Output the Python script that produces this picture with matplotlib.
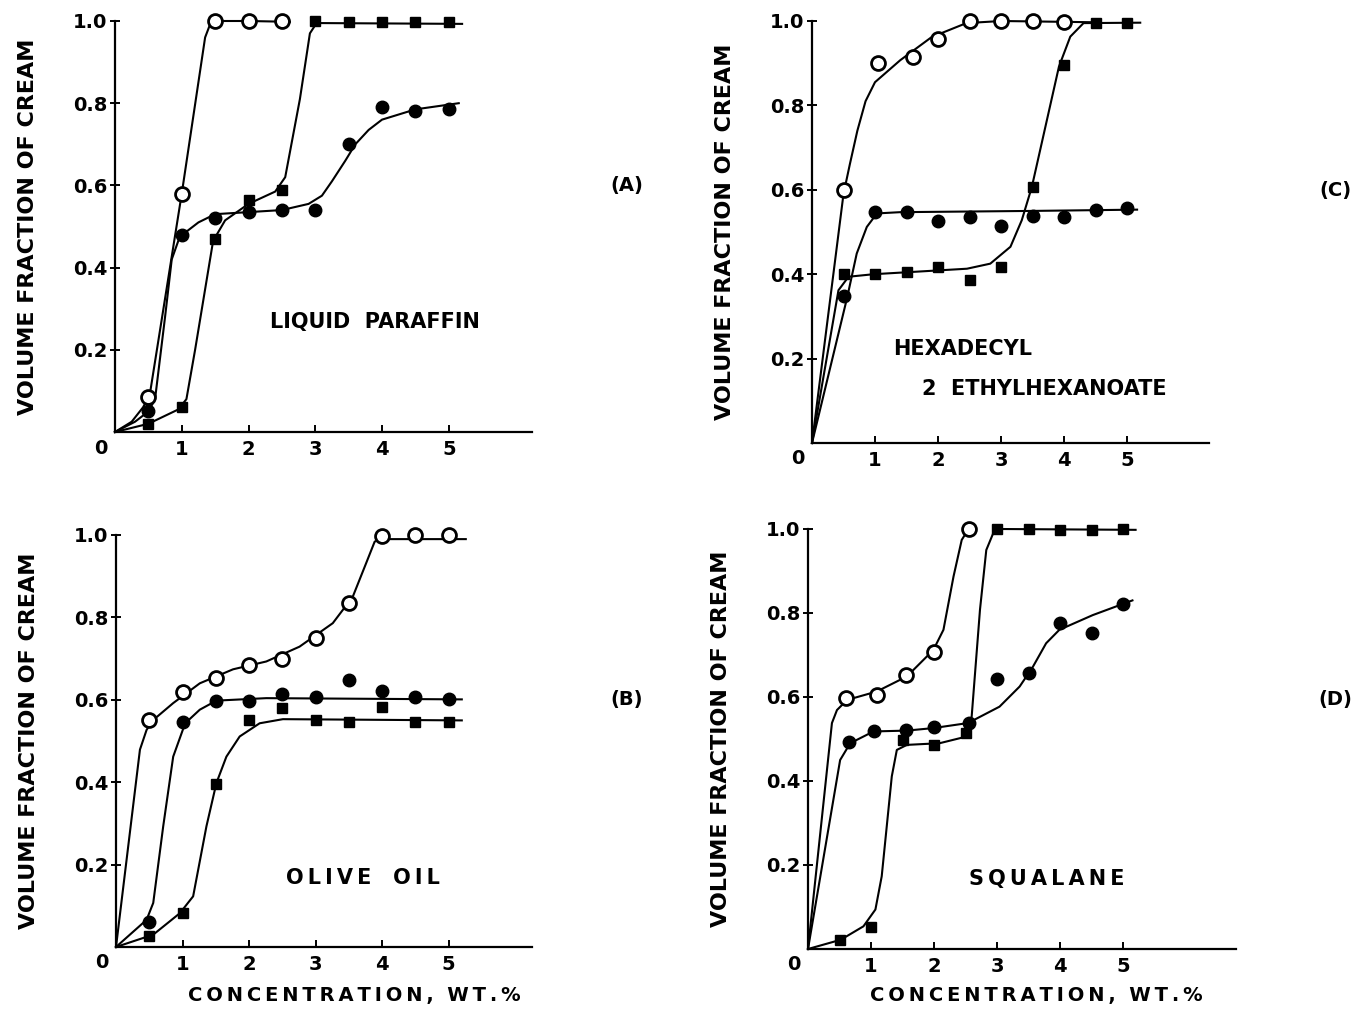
import matplotlib
matplotlib.use("Agg")
from matplotlib import pyplot as plt

# concentration (wt.%) at which samples were measured
conc = [0.5, 1.0, 1.5, 2.0, 2.5, 3.0, 3.5, 4.0, 4.5, 5.0]

# (A) liquid paraffin
a_open_x = [0.5, 1.0, 1.5, 2.0, 2.5]
a_open_y = [0.085, 0.58, 1.0, 1.0, 1.0]
a_fill_y = [0.05, 0.48, 0.52, 0.535, 0.54, 0.54, 0.70, 0.79, 0.78, 0.785]
a_sq_y = [0.02, 0.06, 0.47, 0.565, 0.59, 1.0, 0.998, 0.998, 0.997, 0.997]
a_open_cx = [0, 0.25, 0.42, 0.52, 1.0, 1.35, 1.42, 1.5, 2.0, 2.62]
a_open_cy = [0, 0.025, 0.06, 0.09, 0.58, 0.96, 0.99, 1.0, 1.0, 0.998]
a_fill_cx = [0, 0.3, 0.5, 0.6, 0.75, 0.85, 0.97, 1.25, 1.5, 2.0, 2.5, 2.9, 3.1,
             3.25, 3.45, 3.6, 3.8, 4.0, 4.5, 5.15]
a_fill_cy = [0, 0.025, 0.05, 0.08, 0.28, 0.42, 0.475, 0.51, 0.53, 0.535, 0.54,
             0.555, 0.575, 0.61, 0.66, 0.70, 0.735, 0.76, 0.785, 0.80]
a_sq_cx = [0, 0.5, 0.95, 1.07, 1.2, 1.47, 1.65, 2.0, 2.4, 2.55, 2.77, 2.92, 3.02, 5.2]
a_sq_cy = [0, 0.02, 0.055, 0.08, 0.2, 0.465, 0.515, 0.555, 0.585, 0.62, 0.81,
           0.97, 0.995, 0.993]

# (B) olive oil
b_open_y = [0.55, 0.618, 0.654, 0.685, 0.699, 0.749, 0.836, 0.998, 1.0, 1.0]
b_fill_y = [0.06, 0.547, 0.598, 0.598, 0.614, 0.606, 0.647, 0.622, 0.608, 0.602]
b_sq_y = [0.027, 0.082, 0.396, 0.55, 0.58, 0.55, 0.545, 0.582, 0.545, 0.547]
b_open_cx = [0, 0.36, 0.46, 0.56, 0.86, 1.26, 1.76, 2.26, 2.76, 3.26, 3.56,
             3.76, 3.89, 3.99, 5.26]
b_open_cy = [0, 0.479, 0.527, 0.551, 0.592, 0.64, 0.674, 0.693, 0.729, 0.786,
             0.85, 0.931, 0.984, 0.99, 0.99]
b_fill_cx = [0, 0.46, 0.56, 0.71, 0.86, 1.04, 1.26, 1.51, 2.26, 5.2]
b_fill_cy = [0, 0.066, 0.107, 0.293, 0.462, 0.543, 0.576, 0.598, 0.604, 0.601]
b_sq_cx = [0, 0.56, 0.96, 1.16, 1.36, 1.51, 1.66, 1.86, 2.16, 2.51, 5.2]
b_sq_cy = [0, 0.03, 0.082, 0.123, 0.293, 0.398, 0.462, 0.511, 0.543, 0.553, 0.55]

# (C) hexadecyl 2 ethylhexanoate
c_open_x = [0.5, 1.05, 1.6, 2.0, 2.5, 3.0, 3.5, 4.0]
c_open_y = [0.60, 0.90, 0.914, 0.957, 1.0, 1.0, 1.0, 0.998]
c_fill_y = [0.348, 0.548, 0.548, 0.527, 0.536, 0.514, 0.538, 0.536, 0.552, 0.558]
c_sq_y = [0.40, 0.40, 0.406, 0.417, 0.386, 0.417, 0.606, 0.896, 0.996, 0.996]
c_open_cx = [0, 0.5, 0.6, 0.72, 0.85, 1.0, 1.4, 1.9, 2.45, 3.0, 4.0, 4.5]
c_open_cy = [0, 0.59, 0.66, 0.74, 0.81, 0.855, 0.907, 0.962, 0.995, 1.0, 0.998, 0.997]
c_fill_cx = [0, 0.56, 0.71, 0.87, 1.03, 1.4, 3.52, 5.16]
c_fill_cy = [0, 0.346, 0.449, 0.512, 0.544, 0.547, 0.55, 0.553]
c_sq_cx = [0, 0.42, 0.58, 0.98, 2.46, 2.83, 3.15, 3.33, 3.49, 3.68, 3.92, 4.1, 4.31, 5.21]
c_sq_cy = [0, 0.362, 0.394, 0.40, 0.413, 0.425, 0.465, 0.528, 0.607, 0.733,
           0.892, 0.963, 0.995, 0.996]

# (D) squalane
d_open_x = [0.6, 1.1, 1.55, 2.0, 2.55]
d_open_y = [0.597, 0.605, 0.653, 0.706, 1.0]
d_fill_x = [0.65, 1.05, 1.55, 2.0, 2.55, 3.0, 3.5, 4.0, 4.5, 5.0]
d_fill_y = [0.494, 0.518, 0.522, 0.528, 0.539, 0.642, 0.657, 0.777, 0.752, 0.822]
d_sq_y = [0.022, 0.052, 0.498, 0.486, 0.515, 1.0, 1.0, 0.998, 0.998, 1.0]
d_open_cx = [0, 0.38, 0.46, 0.62, 1.09, 1.57, 1.99, 2.15, 2.31, 2.44, 2.54, 2.56]
d_open_cy = [0, 0.538, 0.569, 0.593, 0.613, 0.649, 0.712, 0.76, 0.887, 0.974, 0.998, 1.0]
d_fill_cx = [0, 0.51, 0.67, 1.04, 1.57, 1.99, 2.54, 3.04, 3.36, 3.57, 3.78, 3.99, 4.52, 5.15]
d_fill_cy = [0, 0.45, 0.49, 0.518, 0.52, 0.526, 0.538, 0.577, 0.625, 0.672, 0.728,
             0.76, 0.795, 0.83]
d_sq_cx = [0, 0.52, 0.88, 1.07, 1.17, 1.33, 1.41, 1.57, 2.09, 2.52, 2.59, 2.73,
           2.83, 2.94, 3.04, 5.2]
d_sq_cy = [0, 0.022, 0.054, 0.094, 0.173, 0.411, 0.474, 0.486, 0.49, 0.506, 0.538,
           0.808, 0.95, 0.99, 1.0, 0.998]

W, H = 1356, 1014
BOLD = dict(fontweight="bold", family="DejaVu Sans")


def make_axes(fig, x0, unit, y0, y1, xmax):
    # position axes from pixel geometry of the reference
    ax = fig.add_axes([x0 / W, 1 - y0 / H, xmax * unit / W, (y0 - y1) / H])
    ax.set_xlim(0, xmax)
    ax.set_ylim(0, 1.0)
    for s in ["top", "right"]:
        ax.spines[s].set_visible(False)
    for s in ["left", "bottom"]:
        ax.spines[s].set_linewidth(1.6)
    ax.set_xticks([1, 2, 3, 4, 5])
    ax.set_yticks([0.2, 0.4, 0.6, 0.8, 1.0])
    ax.set_yticklabels(["0.2", "0.4", "0.6", "0.8", "1.0"])
    ax.tick_params(axis="y", direction="inout", length=7, width=1.4, pad=2, labelsize=14)
    ax.tick_params(axis="x", direction="in", length=5, width=1.4, pad=6, labelsize=14)
    for lab in ax.get_xticklabels() + ax.get_yticklabels():
        lab.set_fontweight("bold")
    ax.annotate("0", xy=(0, 0), xytext=(-14, -16), textcoords="offset pixels",
                ha="center", va="center", fontsize=14, **BOLD)
    ax.set_ylabel("VOLUME FRACTION OF CREAM", fontsize=16, labelpad=25, **BOLD)
    return ax


def draw(ax, open_x, open_y, fill_x, fill_y, sq_x, sq_y, curves):
    for cx, cy in curves:
        ax.plot(cx, cy, color="black", lw=1.5, clip_on=False, zorder=2)
    ax.plot(open_x, open_y, "o", ms=10, mfc="white", mec="black", mew=2,
            clip_on=False, zorder=3)
    ax.plot(fill_x, fill_y, "o", ms=9, color="black", clip_on=False, zorder=3)
    ax.plot(sq_x, sq_y, "s", ms=7.5, color="black", clip_on=False, zorder=3)


fig = plt.figure(figsize=(13.56, 10.14), dpi=100)

ax_a = make_axes(fig, 115, 66.75, 432, 21, 6.25)
draw(ax_a, a_open_x, a_open_y, conc, a_fill_y, conc, a_sq_y,
     [(a_open_cx, a_open_cy), (a_fill_cx, a_fill_cy), (a_sq_cx, a_sq_cy)])
ax_a.text(2.32, 0.268, "LIQUID  PARAFFIN", fontsize=15, va="center", **BOLD)

ax_b = make_axes(fig, 116, 66.5, 947, 535, 6.25)
draw(ax_b, conc, b_open_y, conc, b_fill_y, conc, b_sq_y,
     [(b_open_cx, b_open_cy), (b_fill_cx, b_fill_cy), (b_sq_cx, b_sq_cy)])
ax_b.text(2.55, 0.167, "\u2009".join("OLIVE") + "   " + "\u2009".join("OIL"),
          fontsize=15, va="center", **BOLD)

ax_c = make_axes(fig, 812, 63, 443, 21, 6.3)
draw(ax_c, c_open_x, c_open_y, conc, c_fill_y, conc, c_sq_y,
     [(c_open_cx, c_open_cy), (c_fill_cx, c_fill_cy), (c_sq_cx, c_sq_cy)])
ax_c.text(1.28, 0.223, "HEXADECYL", fontsize=15, va="center", **BOLD)
ax_c.text(1.75, 0.127, "2  ETHYLHEXANOATE", fontsize=15, va="center", **BOLD)

ax_d = make_axes(fig, 808, 63, 949, 529, 6.8)
draw(ax_d, d_open_x, d_open_y, d_fill_x, d_fill_y, conc, d_sq_y,
     [(d_open_cx, d_open_cy), (d_fill_cx, d_fill_cy), (d_sq_cx, d_sq_cy)])
ax_d.text(2.55, 0.167, "\u2009".join("SQUALANE"), fontsize=15, va="center", **BOLD)

# panel letters
for x, y, s in [(627, 186, "(A)"), (627, 700, "(B)"), (1335, 190, "(C)"), (1335, 700, "(D)")]:
    fig.text(x / W, 1 - y / H, s, fontsize=14, ha="center", va="center", **BOLD)

xlab = "\u2009".join("CONCENTRATION,") + "  " + "\u2009".join("WT.%")
fig.text(354 / W, 1 - 995 / H, xlab, fontsize=14, ha="center", va="center", **BOLD)
fig.text(1036 / W, 1 - 995 / H, xlab, fontsize=14, ha="center", va="center", **BOLD)

fig.savefig("out.png", dpi=100)
